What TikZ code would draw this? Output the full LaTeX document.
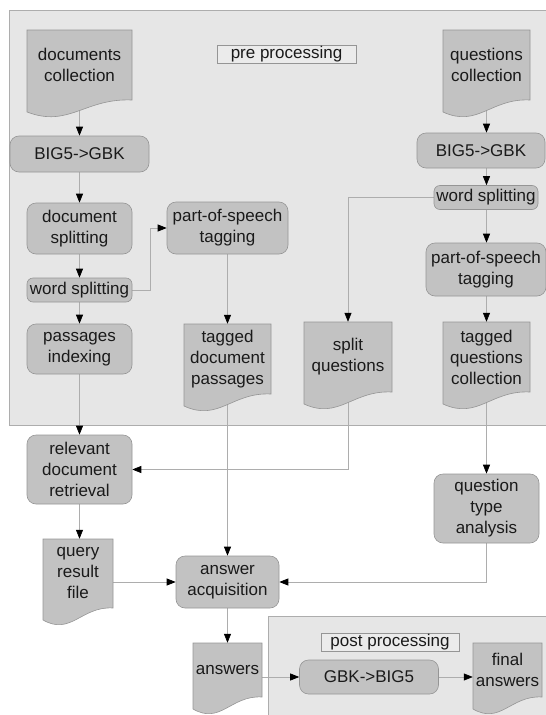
\documentclass[tikz,border=0pt]{standalone}
\usepackage{fontspec}
\setmainfont{Liberation Sans}
\usetikzlibrary{arrows.meta}
\definecolor{bgpre}{HTML}{E6E6E6}
\definecolor{lblfill}{HTML}{EBEBEB}
\definecolor{nodefill}{HTML}{C2C2C2}
\definecolor{nodeline}{HTML}{959595}
\definecolor{connline}{HTML}{ADADAD}
\definecolor{txt}{HTML}{1A1A1A}
\pgfdeclarelayer{back}\pgfdeclarelayer{lines}
\pgfsetlayers{back,lines,main}
\newcommand\dfont{\fontsize{17}{21}\selectfont}
\tikzset{
 proc/.style={draw=nodeline, fill=nodefill, rounded corners=9pt, line width=0.6pt, align=center, inner sep=0pt, text=txt, font=\dfont},
 docbody/.style={draw=nodeline, fill=nodefill, line width=0.6pt},
 doctext/.style={align=center, inner sep=0pt, text=txt, font=\dfont},
 conn/.style={draw=connline, line width=0.7pt, -{Triangle[length=9pt,width=7pt,color=black,fill=black]}},
 regionbox/.style={fill=bgpre, draw=connline, line width=0.6pt},
 lblbox/.style={fill=lblfill, draw=nodeline, line width=0.5pt, inner sep=0pt, text=txt, font=\dfont}
}
% name, L, T, R, RB, text
\newcommand\docnode[6]{%
 \path[docbody] (#2,#3) -- (#4,#3) -- (#4,#5) .. controls ({#2+0.55*(#4-#2)},{#5-2}) and ({#2+0.4*(#4-#2)},{#5+28}) .. (#2,{#5+12}) -- cycle;
 \node[doctext, minimum width={(#4-#2)*1pt}, minimum height={(#5-#3)*1pt}] (#1) at ({(#2+#4)/2},{(#3+#5)/2}) {#6};
}
\begin{document}
\begin{tikzpicture}[x=1pt,y=-1pt]
\useasboundingbox (0,0) rectangle (546,715);
\begin{pgfonlayer}{back}
 \path[regionbox] (9,10) rectangle (548,425);
 \path[regionbox] (268,616) rectangle (548,717);
\end{pgfonlayer}
\node[lblbox, minimum width=139pt, minimum height=18pt] (prelbl) at (286.5,54) {pre processing};
\node[lblbox, minimum width=138pt, minimum height=18pt] (postlbl) at (390,642) {post processing};

% left column
\docnode{docscoll}{27}{30}{132}{100}{documents\\collection}
\node[proc, minimum width=139pt, minimum height=36pt] (big5L) at (79.5,154) {BIG5->GBK};
\node[proc, minimum width=105pt, minimum height=51pt] (docsplit) at (79.5,228.5) {document\\splitting};
\node[proc, minimum width=121pt, minimum height=52pt] (posL) at (227.5,228) {part-of-speech\\tagging};
\node[proc, rounded corners=6pt, minimum width=105pt, minimum height=24pt] (wsL) at (79.5,290) {word splitting};
\node[proc, minimum width=105pt, minimum height=50pt] (passidx) at (79.5,349) {passages\\indexing};
\docnode{tagdoc}{184}{324}{271}{394}{tagged\\document\\passages}
\node[proc, minimum width=105pt, minimum height=69pt] (reldoc) at (79.5,469.5) {relevant\\document\\retrieval};
\docnode{qrf}{43}{539}{113}{608}{query\\result\\file}
\node[proc, minimum width=103pt, minimum height=52pt] (ansacq) at (227.5,582) {answer\\acquisition};
\docnode{answers}{193}{643}{262}{697}{answers}

% right column
\docnode{qcoll}{443}{30}{530}{100}{questions\\collection}
\node[proc, minimum width=128pt, minimum height=35pt] (big5R) at (481,150.5) {BIG5->GBK};
\node[proc, rounded corners=6pt, minimum width=104pt, minimum height=24pt] (wsR) at (486,197.5) {word splitting};
\node[proc, minimum width=120pt, minimum height=53pt] (posR) at (486,269.5) {part-of-speech\\tagging};
\docnode{splitq}{304}{322}{392}{392}{split\\questions}
\docnode{tagqc}{443}{322}{530}{392}{tagged\\questions\\collection}
\node[proc, minimum width=105pt, minimum height=69pt] (qtype) at (486.5,508.5) {question\\type\\analysis};
\node[proc, minimum width=139pt, minimum height=34pt] (gbk) at (369,677) {GBK->BIG5};
\docnode{finalans}{473}{643}{542}{697}{final\\answers}

\begin{pgfonlayer}{lines}
 \draw[conn] (docscoll.south) -- (big5L.north);
 \draw[conn] (big5L.south) -- (docsplit.north);
 \draw[conn] (docsplit.south) -- (wsL.north);
 \draw[conn] (wsL.south) -- (passidx.north);
 \draw[conn] (wsL.east) -- ++(18,0) |- (posL.west);
 \draw[conn] (posL.south) -- (tagdoc.north);
 \draw[conn] (passidx.south) -- (reldoc.north);
 \draw[conn] (tagdoc.south) -- (ansacq.north);
 \draw[conn] (splitq.south) |- (reldoc.east);
 \draw[conn] (qcoll.south) -- (qcoll.south |- big5R.north);
 \draw[conn] (qcoll.south |- big5R.south) -- (qcoll.south |- wsR.north);
 \draw[conn] (qcoll.south |- wsR.south) -- (qcoll.south |- posR.north);
 \draw[conn] (wsR.west) -| (splitq.north);
 \draw[conn] (qcoll.south |- posR.south) -- (tagqc.north);
 \draw[conn] (tagqc.south) -- (qtype.north);
 \draw[conn] (qtype.south) |- (ansacq.east);
 \draw[conn] (reldoc.south) -- (reldoc.south |- qrf.north);
 \draw[conn] (qrf.east |- ansacq.west) -- (ansacq.west);
 \draw[conn] (ansacq.south) -- (answers.north);
 \draw[conn] (answers.east |- gbk.west) -- (gbk.west);
 \draw[conn] (gbk.east) -- (finalans.west |- gbk.east);
\end{pgfonlayer}
\end{tikzpicture}
\end{document}
